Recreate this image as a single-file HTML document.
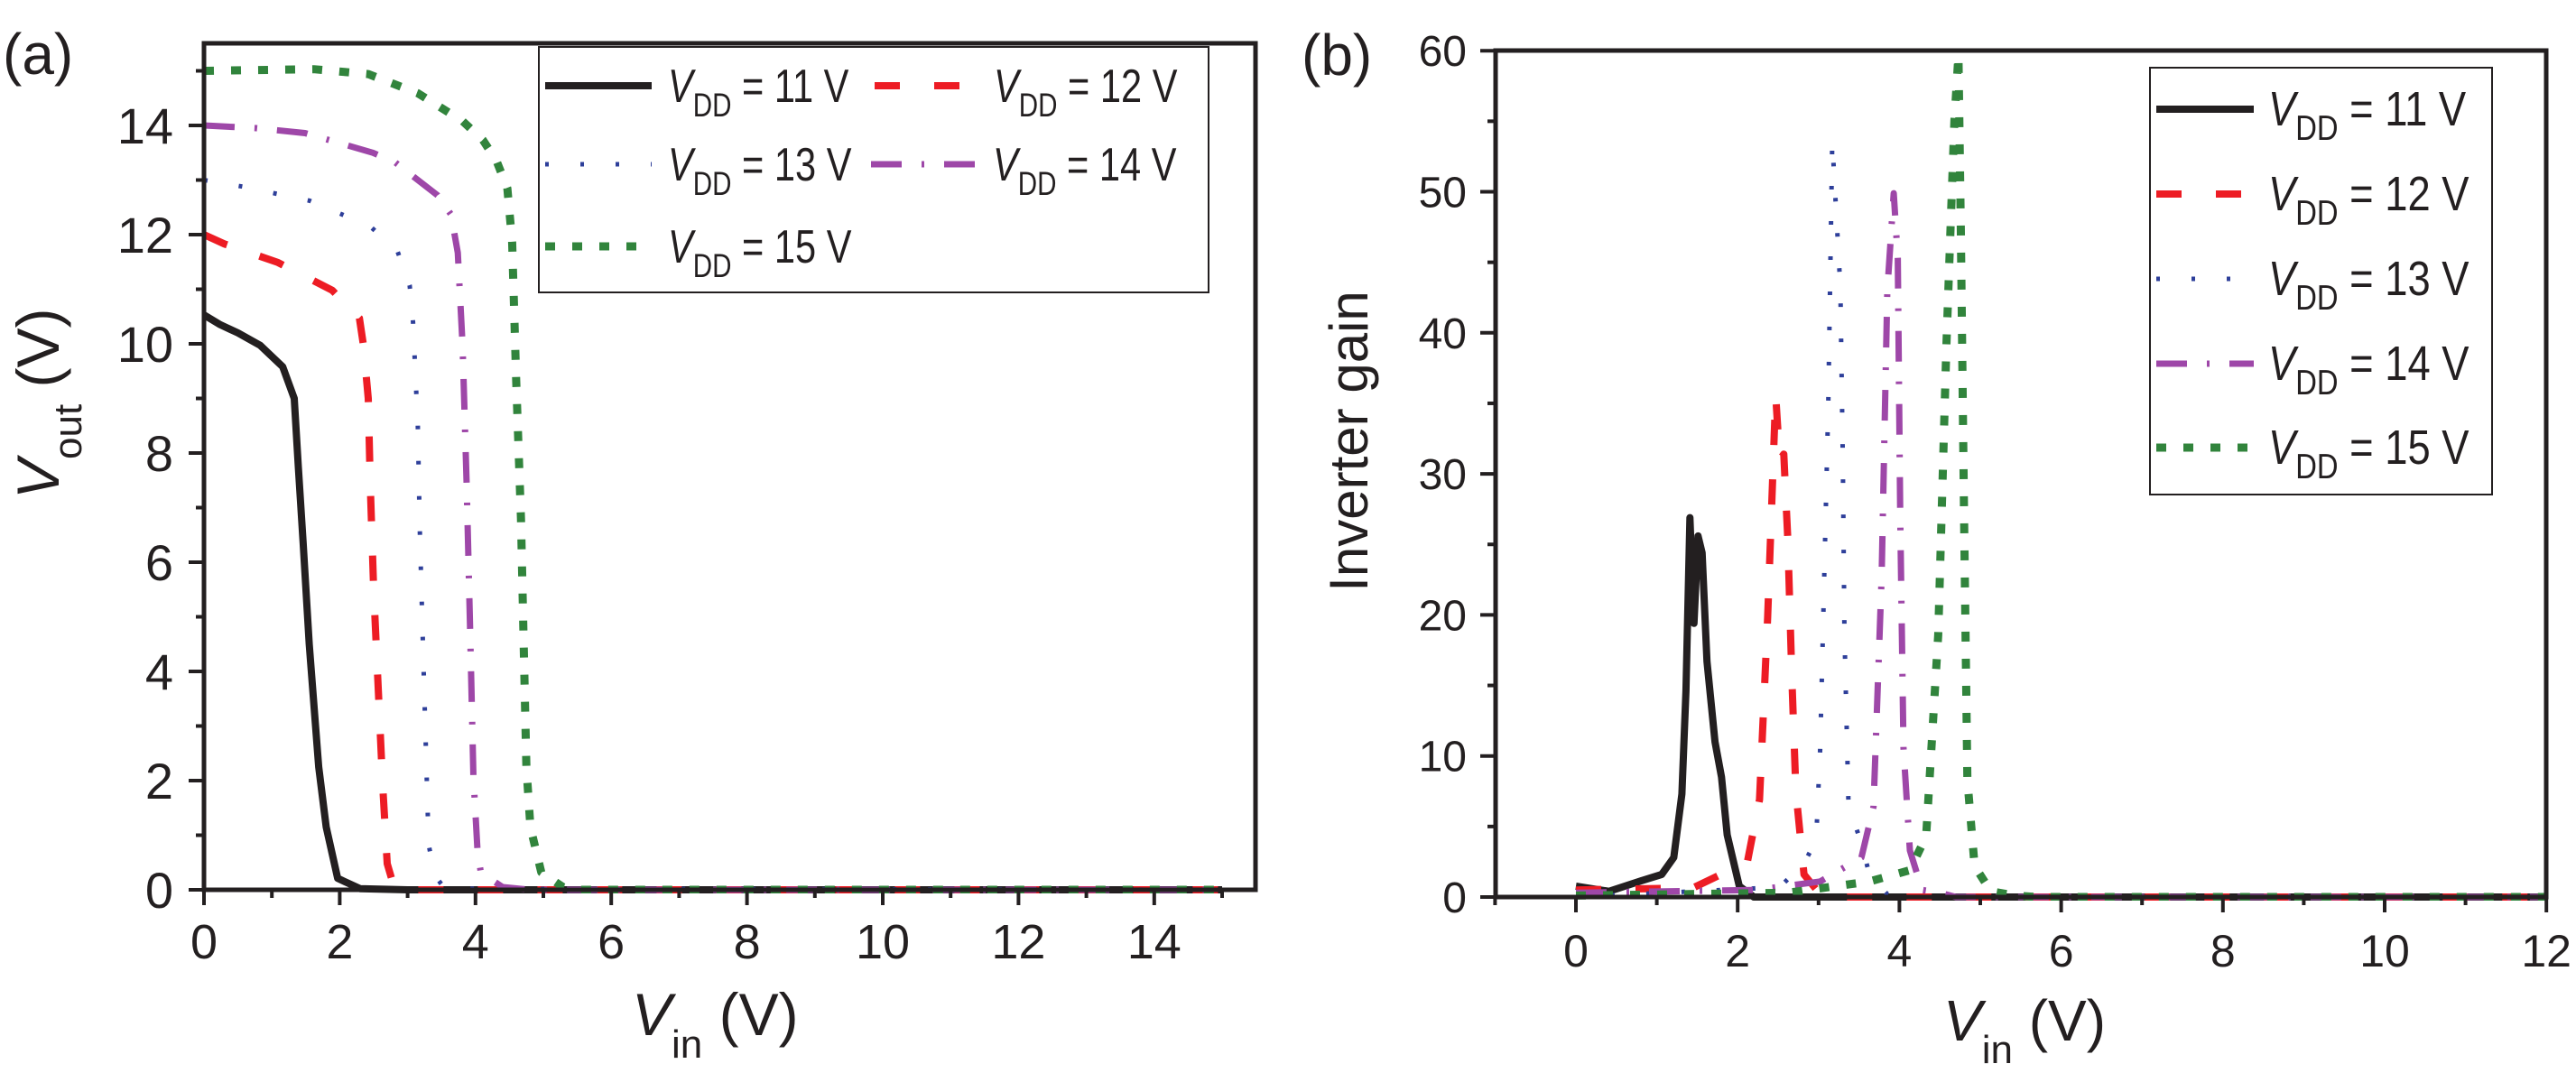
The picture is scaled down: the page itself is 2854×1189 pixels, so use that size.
<!DOCTYPE html>
<html><head><meta charset="utf-8"><style>
html,body{margin:0;padding:0;background:#fff;}
svg{display:block;font-family:"Liberation Sans",sans-serif;}
</style></head><body>
<svg id="chart" width="2854" height="1189" viewBox="0 0 2854 1189" xmlns="http://www.w3.org/2000/svg">
<defs>
<clipPath id="clipA"><rect x="226" y="48" width="1165" height="942"/></clipPath>
<clipPath id="clipB"><rect x="1657" y="56" width="1164" height="942"/></clipPath>
</defs>
<g id="panelA"></g>
<g id="panelB"></g>
</svg>
<script>
// ---------- Panel (a) data ----------
const aXTicks = [0,2,4,6,8,10,12,14];
const aYTicks = [0,2,4,6,8,10,12,14];
const aVin11 = [0,0.24,0.5,0.83,1.16,1.33,1.39,1.46,1.55,1.69,1.8,1.97,2.3,3,15];
const aVout11 = [10.53,10.35,10.2,9.97,9.58,9.0,7.75,6.37,4.5,2.25,1.15,0.21,0.02,0,0];
const aVin12 = [0,0.3,1.09,1.89,2.29,2.35,2.42,2.45,2.5,2.57,2.63,2.7,2.8,3,15];
const aVout12 = [12,11.83,11.49,10.98,10.47,9.97,9.0,7.43,5.5,3.6,1.97,0.48,0.05,0,0];
const aVin13 = [0,0.57,1.56,2.45,2.85,3.03,3.08,3.15,3.18,3.23,3.28,3.31,3.4,3.55,15];
const aVout13 = [13,12.88,12.62,12.15,11.7,11.07,10.4,8.5,6.6,4.3,2.1,0.83,0.26,0.02,0];
const aVin14 = [0,0.77,1.49,2.49,2.82,3.44,3.64,3.74,3.81,3.87,3.92,3.97,4.03,4.08,4.4,4.8,15];
const aVout14 = [14,13.95,13.86,13.5,13.32,12.72,12.37,11.67,9.97,7.43,4.8,2.08,0.7,0.31,0.05,0,0];
const aVin15 = [0,1.62,2.42,3.15,3.81,4.11,4.31,4.47,4.54,4.6,4.67,4.71,4.75,4.81,4.97,5.29,5.5,15];
const aVout15 = [15,15.03,14.94,14.59,14.08,13.73,13.35,12.85,11.87,9.33,6.8,4.5,2.25,1.14,0.32,0.05,0,0];
// ---------- Panel (b) data ----------
const bXTicks = [0,2,4,6,8,10,12];
const bYTicks = [0,10,20,30,40,50,60];
const bVin11 = [0,0.41,0.81,1.06,1.21,1.31,1.36,1.41,1.46,1.51,1.56,1.62,1.72,1.8,1.87,2.02,2.2,12];
const bGain11 = [0.77,0.4,1.16,1.6,2.8,7.3,14.6,26.9,19.4,25.6,24.4,16.7,11,8.5,4.4,0.77,0,0];
const bVin12 = [0,1.45,2.12,2.27,2.37,2.47,2.52,2.57,2.62,2.67,2.72,2.82,3.02,3.3,12];
const bGain12 = [0.5,0.65,2.5,6.9,19.8,35.6,31,31.4,25.3,15.6,7.5,1.6,0.2,0,0];
const bVin13 = [0,2.52,2.82,2.97,3.02,3.07,3.12,3.17,3.27,3.3,3.32,3.37,3.53,3.63,3.85,4.1,12];
const bGain13 = [0,0.7,2.4,4,10.5,22.7,35,53.6,43.2,31,18.7,6.5,3.8,1.6,0.2,0,0];
const bVin14 = [0,2.22,3.02,3.53,3.68,3.78,3.85,3.93,3.98,4.01,4.05,4.13,4.28,4.5,4.7,12];
const bGain14 = [0.3,0.5,1.1,2.8,6.4,22.7,43,49.9,45.3,27,10.6,3.3,0.5,0.3,0,0];
const bVin15 = [0,2.62,3.63,4.13,4.33,4.48,4.58,4.63,4.68,4.73,4.76,4.8,4.84,4.93,5.13,5.43,5.7,12];
const bGain15 = [0.1,0.3,1.1,1.9,4.3,18.6,39,47,55,59.7,47,26.6,8.3,2.2,0.4,0.1,0,0];
const vddLabels = ["11","12","13","14","15"];

const NS = "http://www.w3.org/2000/svg";
const styles = [
  {c:"#231f20", d:null, w:8},
  {c:"#ed1c24", d:"28 38", w:8},
  {c:"#2e3f9a", d:"4 35", w:5},
  {c:"#9e47a8", d:"34 22 3 22", w:7},
  {c:"#31843c", d:"11 19", w:9}
];
function el(tag, attrs, parent){
  const e = document.createElementNS(NS, tag);
  for (const k in attrs) e.setAttribute(k, attrs[k]);
  parent.appendChild(e);
  return e;
}
const ax = v => 226 + v*75.2, ay = v => 986 - v*60.5;
const bx = v => 1746 + v*89.6, by = v => 994 - v*15.63;

function lineStyle(p, s){
  p.setAttribute('fill','none');
  p.setAttribute('stroke', s.c);
  p.setAttribute('stroke-width', s.w);
  p.setAttribute('stroke-linejoin','round');
  if (s.d) p.setAttribute('stroke-dasharray', s.d);
}
function series(g, xs, ys, fx, fy, s, clip, name){
  let d = "";
  xs.forEach((x,i)=>{ d += (i?"L":"M") + fx(x).toFixed(1) + " " + fy(ys[i]).toFixed(1); });
  const p = el('path', {d:d, 'clip-path':'url(#'+clip+')'}, g);
  lineStyle(p, s);
  
  
}
function legendEntry(g, x1, x2, y, tx, s, lbl, fs, sx, name){
  const lg = el('g', {}, g);
  
  
  const l = el('line', {x1:x1, x2:x2, y1:y, y2:y}, lg);
  lineStyle(l, s);
  const t = el('text', {x:0, y:0, 'font-size':fs, fill:'#231f20', transform:'translate('+tx+','+(y+18)+') scale('+sx+',1)'}, lg);
  t.innerHTML = '<tspan font-style="italic">V</tspan><tspan dy="16" font-size="'+Math.round(fs*0.72)+'">DD</tspan><tspan dy="-16"> = '+lbl+' V</tspan>';
}

// ---------- Panel A ----------
const gA = document.getElementById('panelA');
series(gA, aVin11, aVout11, ax, ay, styles[0], 'clipA', 'curve-vdd-11');
series(gA, aVin12, aVout12, ax, ay, styles[1], 'clipA', 'curve-vdd-12');
series(gA, aVin13, aVout13, ax, ay, styles[2], 'clipA', 'curve-vdd-13');
series(gA, aVin14, aVout14, ax, ay, styles[3], 'clipA', 'curve-vdd-14');
series(gA, aVin15, aVout15, ax, ay, styles[4], 'clipA', 'curve-vdd-15');
const frameA = el('rect', {x:226, y:48, width:1165, height:938, fill:'none', stroke:'#231f20', 'stroke-width':5}, gA);


for (let v=0; v<=15; v++){
  const big = aXTicks.includes(v);
  el('line', {x1:ax(v), x2:ax(v), y1:986, y2:986+(big?17:9), stroke:'#231f20', 'stroke-width':4}, gA);
}
for (let v=0; v<=15; v++){
  const big = aYTicks.includes(v);
  el('line', {x1:226, x2:226-(big?17:9), y1:ay(v), y2:ay(v), stroke:'#231f20', 'stroke-width':4}, gA);
}
aXTicks.forEach(v=>{
  const t = el('text', {x:ax(v), y:1062, 'font-size':54, 'text-anchor':'middle', fill:'#231f20'}, gA);
  t.textContent = v;
  
  
});
aYTicks.forEach(v=>{
  const t = el('text', {x:192, y:ay(v)+20, 'font-size':56, 'text-anchor':'end', fill:'#231f20'}, gA);
  t.textContent = v;
  
  
});
const xtA = el('text', {x:700, y:1147, 'font-size':66, fill:'#231f20'}, gA);
xtA.innerHTML = '<tspan font-style="italic">V</tspan><tspan dy="25" font-size="44">in</tspan><tspan dy="-25"> (V)</tspan>';


const ytA = el('text', {x:0, y:0, 'font-size':66, fill:'#231f20', transform:'translate(65,553) rotate(-90)'}, gA);
ytA.innerHTML = '<tspan font-style="italic">V</tspan><tspan dy="25" font-size="44">out</tspan><tspan dy="-25"> (V)</tspan>';


const labA = el('text', {x:3, y:82, 'font-size':64, fill:'#231f20'}, gA);
labA.textContent = '(a)';


const legA = el('g', {}, gA);


el('rect', {x:597, y:52, width:742, height:272, fill:'#fff', stroke:'#231f20', 'stroke-width':2}, legA);
legendEntry(legA, 604, 722, 95, 740, styles[0], vddLabels[0], 52, 0.8, 'legend-entry-a-11');
legendEntry(legA, 969, 1063, 95, 1101, styles[1], vddLabels[1], 52, 0.8, 'legend-entry-a-12');
legendEntry(legA, 604, 722, 182, 740, styles[2], vddLabels[2], 52, 0.8, 'legend-entry-a-13');
legendEntry(legA, 965, 1081, 182, 1100, styles[3], vddLabels[3], 52, 0.8, 'legend-entry-a-14');
legendEntry(legA, 604, 722, 273, 740, styles[4], vddLabels[4], 52, 0.8, 'legend-entry-a-15');

// ---------- Panel B ----------
const gB = document.getElementById('panelB');
series(gB, bVin11, bGain11, bx, by, styles[0], 'clipB', 'gain-vdd-11');
series(gB, bVin12, bGain12, bx, by, styles[1], 'clipB', 'gain-vdd-12');
series(gB, bVin13, bGain13, bx, by, styles[2], 'clipB', 'gain-vdd-13');
series(gB, bVin14, bGain14, bx, by, styles[3], 'clipB', 'gain-vdd-14');
series(gB, bVin15, bGain15, bx, by, styles[4], 'clipB', 'gain-vdd-15');
const frameB = el('rect', {x:1657, y:56, width:1164, height:938, fill:'none', stroke:'#231f20', 'stroke-width':5}, gB);


for (let v=-1; v<=12; v++){
  const big = bXTicks.includes(v);
  el('line', {x1:bx(v), x2:bx(v), y1:994, y2:994+(big?17:9), stroke:'#231f20', 'stroke-width':4}, gB);
}
for (let v=0; v<=60; v+=5){
  const big = bYTicks.includes(v);
  el('line', {x1:1657, x2:1657-(big?17:9), y1:by(v), y2:by(v), stroke:'#231f20', 'stroke-width':4}, gB);
}
bXTicks.forEach(v=>{
  const t = el('text', {x:bx(v), y:1071, 'font-size':50, 'text-anchor':'middle', fill:'#231f20'}, gB);
  t.textContent = v;
  
  
});
bYTicks.forEach(v=>{
  const t = el('text', {x:1625, y:by(v)+17, 'font-size':48, 'text-anchor':'end', fill:'#231f20'}, gB);
  t.textContent = v;
  
  
});
const xtB = el('text', {x:2153, y:1153, 'font-size':64, fill:'#231f20'}, gB);
xtB.innerHTML = '<tspan font-style="italic">V</tspan><tspan dy="25" font-size="44">in</tspan><tspan dy="-25"> (V)</tspan>';


const ytB = el('text', {x:0, y:0, 'font-size':60, fill:'#231f20', 'text-anchor':'middle', transform:'translate(1515,489) rotate(-90)'}, gB);
ytB.textContent = 'Inverter gain';


const labB = el('text', {x:1442, y:83, 'font-size':64, fill:'#231f20'}, gB);
labB.textContent = '(b)';


const legB = el('g', {}, gB);


el('rect', {x:2382, y:75, width:379, height:473, fill:'#fff', stroke:'#231f20', 'stroke-width':2}, legB);
const rowsB = [121,215,309,403,496];
rowsB.forEach((r,i)=>{
  legendEntry(legB, 2389, 2497, r, 2513, styles[i], vddLabels[i], 54, 0.84, 'legend-entry-b-'+vddLabels[i]);
});
</script>
</body></html>
